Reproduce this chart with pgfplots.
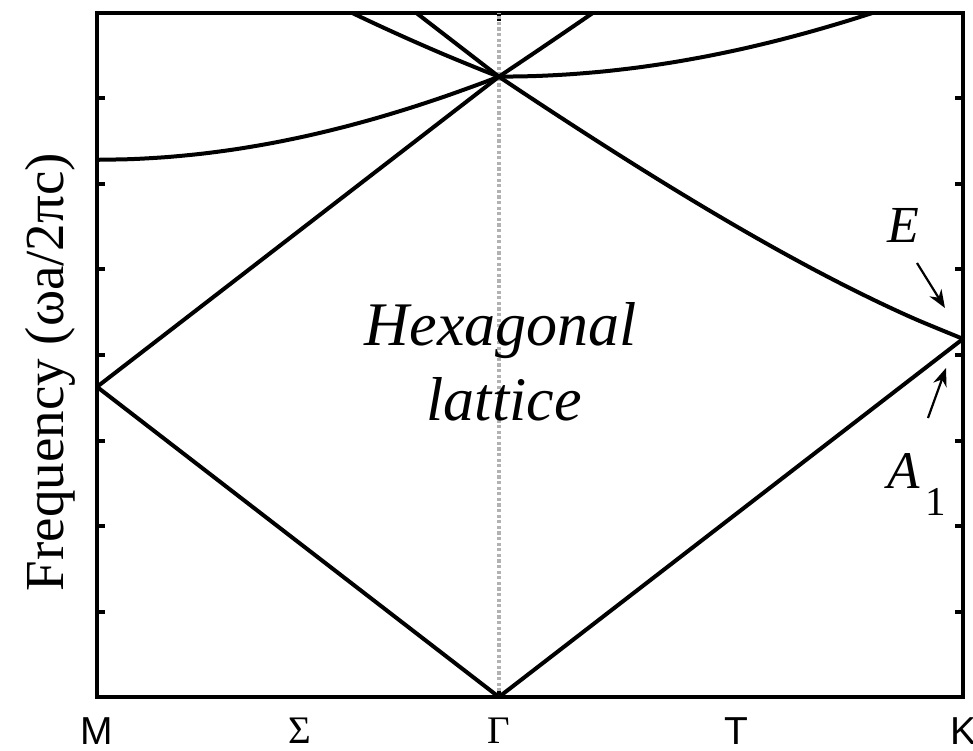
\documentclass[border=0pt]{standalone}
\usepackage{fontspec}
\setmainfont{Liberation Serif}
\newfontfamily\tnr{Liberation Serif}
\newfontfamily\arial{Liberation Sans}
\usepackage{pgfplots}
\pgfplotsset{compat=1.18}
\usetikzlibrary{arrows.meta}

\begin{document}
\begin{tikzpicture}
\begin{axis}[
  name=ax,
  scale only axis,
  width=433pt, height=342pt,
  xmin=0, xmax=1.24402, ymin=0, ymax=1.27324,
  axis line style={line width=2pt},
  tick style={line width=2pt, black},
  major tick length=4pt,
  tick align=inside,
  xtick={0,0.57735,1.24402},
  xticklabels={{\arial M},{\tnr Γ},{\arial K}},
  extra x ticks={0.2916,0.918},
  extra x tick labels={{\tnr Σ},{\arial T}},
  extra x tick style={major tick length=0pt},
  ytick={0,0.159155,0.31831,0.477465,0.63662,0.795775,0.95493,1.114085,1.27324},
  yticklabels={},
  xticklabel style={font=\fontsize{19.5}{22}\selectfont, yshift=-7pt},
  ylabel={Frequency (ωa/2πc)},
  ylabel style={font=\tnr\fontsize{27.5}{32}\selectfont,
    at={(axis description cs:-0.054,0.475)}, anchor=center},
  every axis plot/.append style={line join=round},
]
% symmetry line through Gamma
\addplot[gray!60, line width=1.8pt, dash pattern=on 1.6pt off 1.2pt]
  coordinates {(0.57735,0) (0.57735,1.27324)};

% M -- Gamma
\addplot[black, line width=2pt] coordinates {(0,0.57735) (0.57735,0)};
\addplot[black, line width=2pt] coordinates {(0,0.57735) (0.57735,1.15470)};
\addplot[black, line width=2pt] coordinates {(0.40,1.33205) (0.57735,1.15470)};
\addplot[black, line width=2pt, smooth] coordinates {
  (0,1.0) (0.05,1.00125) (0.1,1.00499) (0.15,1.01119) (0.2,1.01980)
  (0.25,1.03078) (0.3,1.04403) (0.35,1.05948) (0.4,1.07703)
  (0.45,1.09659) (0.5,1.11803) (0.55,1.14127) (0.57735,1.15470)};
\addplot[black, line width=2pt, smooth] coordinates {
  (0.30,1.31549) (0.35,1.28357) (0.40,1.25283) (0.45,1.22336)
  (0.50,1.19525) (0.55,1.16862) (0.57735,1.15470)};

% Gamma -- K
\addplot[black, line width=2pt] coordinates {(0.57735,0) (1.24402,0.66667)};
\addplot[black, line width=2pt, smooth] coordinates {
  (0.57735,1.15470) (0.62735,1.11168) (0.67735,1.06927) (0.72735,1.02754)
  (0.77735,0.98658) (0.82735,0.94648) (0.87735,0.90738) (0.92735,0.86939)
  (0.97735,0.83267) (1.02735,0.79739) (1.07735,0.76376) (1.12735,0.73200)
  (1.17735,0.70238) (1.24402,0.66667)};
\addplot[black, line width=2pt, smooth] coordinates {
  (0.57735,1.15470) (0.62735,1.19826) (0.67735,1.24231) (0.72735,1.28679)
  (0.77735,1.33167)};
\addplot[black, line width=2pt, smooth] coordinates {
  (0.57735,1.15470) (0.62735,1.15578) (0.67735,1.15902) (0.72735,1.16440)
  (0.77735,1.17189) (0.82735,1.18145) (0.87735,1.19304) (0.92735,1.20658)
  (0.97735,1.22202) (1.02735,1.23929) (1.07735,1.25831) (1.12735,1.27899)
  (1.17735,1.30128)};

% labels
\node[anchor=base, inner sep=0, font=\tnr\itshape\fontsize{31}{37}\selectfont]
  at (axis cs:0.5803,0.6552) {Hexagonal};
\node[anchor=base, inner sep=0, font=\tnr\itshape\fontsize{31}{37}\selectfont]
  at (axis cs:0.5847,0.5156) {lattice};
\node[anchor=base west, inner sep=0, font=\tnr\itshape\fontsize{26}{30}\selectfont]
  at (axis cs:1.1348,0.8451) {E};
\node[anchor=base west, inner sep=0, font=\tnr]
  at (axis cs:1.1348,0.3890)
  {{\itshape\fontsize{26.5}{30}\selectfont A}\hspace{3pt}\raisebox{-13.5pt}{\fontsize{20.5}{24}\selectfont 1}};
\draw[-{Stealth[length=9pt,width=7pt]}, line width=1.1pt]
  (axis cs:1.1779,0.8079) -- (axis cs:1.2181,0.7241);
\draw[-{Stealth[length=9pt,width=7pt]}, line width=1.1pt]
  (axis cs:1.1937,0.5193) -- (axis cs:1.2196,0.6124);
\end{axis}
\pgfresetboundingbox
\path ([xshift=-48.5pt,yshift=-26.5pt]ax.south west)
  rectangle ([xshift=5pt,yshift=6.5pt]ax.north east);
\end{tikzpicture}
\end{document}
